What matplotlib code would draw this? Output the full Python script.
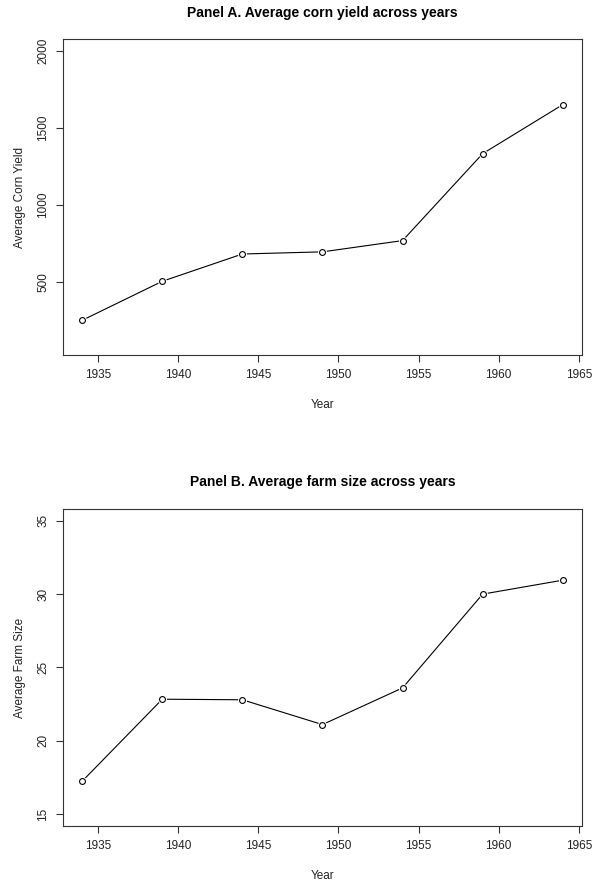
import matplotlib
matplotlib.use("Agg")
import matplotlib.pyplot as plt

years = [1934, 1939, 1944, 1949, 1954, 1959, 1964]
corn_yield = [251, 504, 681, 695, 768, 1332, 1650]
farm_size = [17.25, 22.84, 22.8, 21.11, 23.61, 30.0, 30.95]
x_ticks = [1935, 1940, 1945, 1950, 1955, 1960, 1965]
a_yticks = [500, 1000, 1500, 2000]
b_yticks = [15, 20, 25, 30, 35]

plt.rcParams['font.family'] = ['Liberation Sans', 'DejaVu Sans']

fig = plt.figure(figsize=(5.93, 8.82), dpi=100)

def rexpand(lo, hi):
    d = (hi - lo) * 0.04
    return lo - d, hi + d

def panel(rect, y, ylim, yticks, title, ylabel, title_y):
    ax = fig.add_axes(rect)
    ax.plot(years, y, color='black', lw=0.8, zorder=2)
    ax.plot(years, y, 'o', ms=6.5, mfc='white', mec='none', zorder=3)
    ax.plot(years, y, 'o', ms=4.2, mfc='white', mec='black', mew=0.8, zorder=4)
    ax.set_xlim(*rexpand(1934, 1964))
    ax.set_ylim(*rexpand(*ylim))
    ax.set_xticks(x_ticks)
    ax.set_yticks(yticks)
    ax.tick_params(labelsize=8.5, length=5, width=0.8, color='#333333', labelcolor='#222222', pad=5)
    for lab in ax.get_yticklabels():
        lab.set_rotation(90)
        lab.set_va('center')
    for s in ax.spines.values():
        s.set_linewidth(0.8)
        s.set_color('#333333')
    ax.set_xlabel('Year', fontsize=8.5, color='#222222', labelpad=13)
    ax.set_ylabel(ylabel, fontsize=8.5, color='#222222', labelpad=8)
    fig.text(0.544, title_y, title, ha='center', va='center', fontsize=10, fontweight='bold')
    return ax

panel([0.1062, 0.5972, 0.8752, 0.3586], corn_yield, (100, 2000), a_yticks,
      'Panel A. Average corn yield across years', 'Average Corn Yield', 1 - 13/882)
panel([0.1062, 0.0635, 0.8752, 0.3594], farm_size, (15, 35), b_yticks,
      'Panel B. Average farm size across years', 'Average Farm Size', 1 - 482/882)

fig.savefig('out.png', dpi=100)
